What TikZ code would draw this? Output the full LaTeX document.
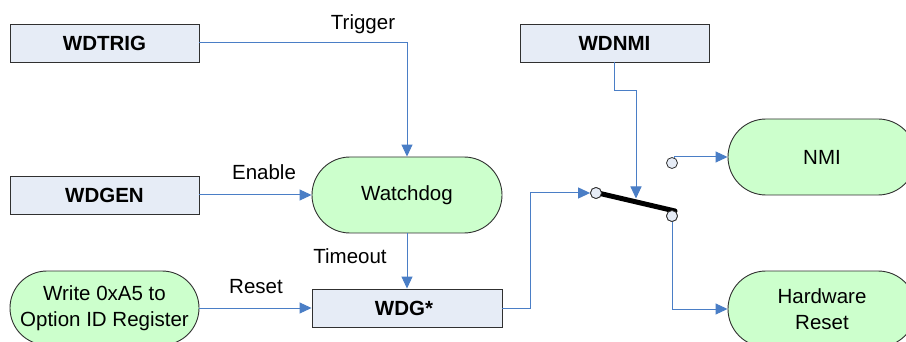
\documentclass[tikz,border=0pt]{standalone}
\usepackage{fontspec}
\setmainfont{Liberation Sans}
\usetikzlibrary{arrows.meta,shapes.misc,calc}
\definecolor{lineblue}{HTML}{4A7EC6}
\definecolor{boxfill}{HTML}{E6ECF6}
\definecolor{greenfill}{HTML}{CCFFCC}
\definecolor{edge}{HTML}{303030}
\tikzset{
  regbox/.style={draw=edge, line width=0.9pt, fill=boxfill, minimum width=189pt, minimum height=38pt, inner sep=0pt,
    font=\fontsize{20.5}{25}\selectfont\bfseries},
  pill/.style={rounded rectangle, draw=edge, line width=0.9pt, fill=greenfill, minimum width=190pt, minimum height=76pt, inner sep=0pt,
    align=center, font=\fontsize{20.5}{25.5}\selectfont},
  contact/.style={circle, draw=edge, line width=0.8pt, fill=boxfill, minimum size=11pt, inner sep=0pt},
  conn/.style={draw=lineblue, line width=1pt, -{Triangle[length=12pt,width=11pt]}},
  plain/.style={draw=lineblue, line width=1pt},
  lbl/.style={anchor=base, font=\fontsize{20.5}{25}\selectfont, inner sep=0pt}
}
\begin{document}
\begin{tikzpicture}[x=1pt,y=-1pt]
\useasboundingbox (0,0) rectangle (906,342);
\fill[white] (0,0) rectangle (906,342);
% nodes
\node[regbox] (wdtrig) at (104.5,43) {WDTRIG};
\node[regbox] (wdgen) at (104.5,195) {WDGEN};
\node[regbox] (wdnmi) at (614.5,43) {WDNMI};
\node[regbox, minimum width=190pt] (wdg) at (407,308) {\hspace*{-6pt}WDG*};
\node[pill] (wd) at (407,195) {Watchdog};
\node[pill, minimum width=189pt, minimum height=74pt] (wr) at (104.5,308) {Write 0xA5 to\\Option ID Register};
\node[pill, minimum width=188pt] (nmi) at (822,157) {NMI};
\node[pill, minimum width=188pt] (hw) at (822,309) {Hardware\\Reset};
% switch
\node[contact] (c1) at (596,193) {};
\node[contact] (c2) at (672,163) {};
\node[contact] (c3) at (672,216) {};
\coordinate (lv1) at (598,193);
\coordinate (lv2) at (675,211);
\draw[line width=5pt, line cap=round] (lv1) -- (lv2);
\coordinate (lvhit) at (636,198.5);
% labels
\node[lbl] (ltrig) at (363,30) {Trigger};
\node[lbl] (len) at (264,180) {Enable};
\node[lbl] (lto) at (350,263) {Timeout};
\node[lbl] (lrs) at (256,293) {Reset};
% connectors
\draw[conn] (wdtrig.east) -| (wd.north);
\draw[conn] (wdgen.east) -- (wd.west);
\draw[conn] (wd.south) -- (wdg.north);
\draw[conn] (wr.east) -- (wdg.west);
\draw[conn] (wdg.east) -- ++(28,0) |- (c1.west);
\draw[conn] (wdnmi.south) -- ++(0,28) -| (lvhit);
\draw[conn] (c2.70) |- (nmi.west);
\draw[conn] (c3.south) |- (hw.west);
% redraw contacts on top of lever
\node[contact] at (c1) {};
\node[contact] at (c3) {};
\end{tikzpicture}
\end{document}
